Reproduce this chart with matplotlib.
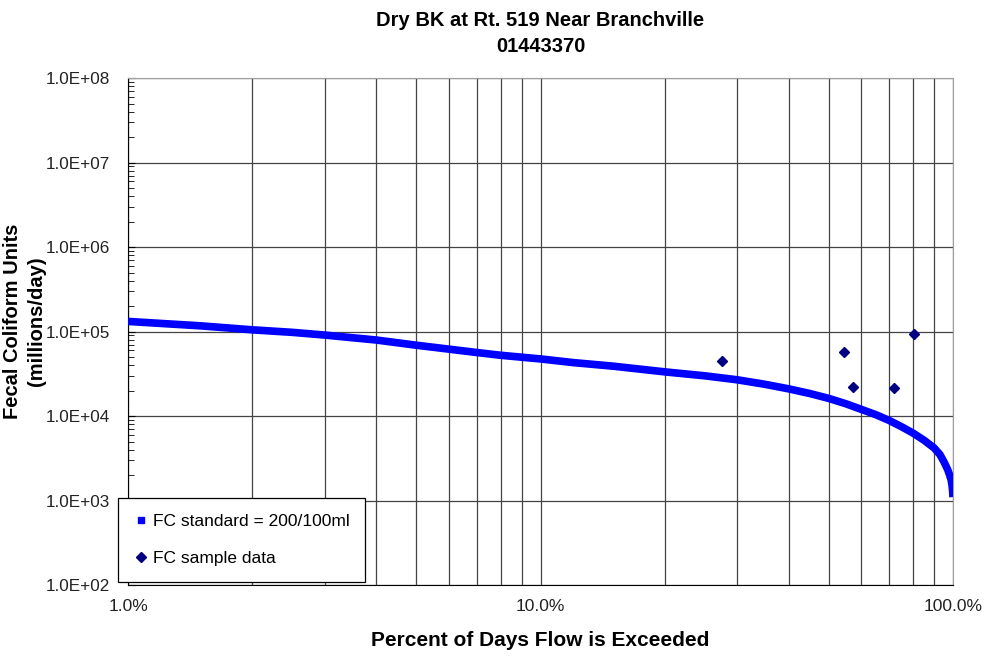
import matplotlib
matplotlib.use("Agg")
import matplotlib.pyplot as plt
from matplotlib.ticker import LogLocator, FuncFormatter, NullFormatter
from matplotlib.lines import Line2D

plt.rcParams['font.family'] = ['Liberation Sans', 'DejaVu Sans']

title = "Dry BK at Rt. 519 Near Branchville\n01443370"

# load duration curve
curve_pct = [1.0, 1.2, 1.5, 2, 2.5, 3, 4, 5, 6, 7, 8, 10, 12, 15, 20, 25,
             30, 35, 40, 45, 50, 55, 60, 65, 70, 75, 80, 85, 90, 93, 95,
             97, 98, 99, 99.5, 99.8, 100]
curve_fc = [1.32e5, 1.25e5, 1.17e5, 1.05e5, 9.8e4, 9.1e4, 7.95e4, 6.9e4,
            6.2e4, 5.66e4, 5.25e4, 4.75e4, 4.3e4, 3.9e4, 3.34e4, 3.0e4,
            2.69e4, 2.38e4, 2.1e4, 1.85e4, 1.62e4, 1.4e4, 1.2e4, 1.04e4,
            8.9e3, 7.5e3, 6.3e3, 5.2e3, 4.2e3, 3.5e3, 2.9e3, 2.35e3, 2.05e3,
            1.75e3, 1.5e3, 1.3e3, 1.1e3]

# sample points
sample_pct = [27.5, 54.5, 57.2, 71.9, 80.3]
sample_fc = [4.45e4, 5.66e4, 2.19e4, 2.13e4, 9.3e4]

legend_labels = ["FC standard = 200/100ml", "FC sample data"]

fig = plt.figure(figsize=(9.85, 6.56), dpi=100)
ax = fig.add_axes([0.130, 0.108, 0.8375, 0.773])

ax.plot(curve_pct, curve_fc, color="#0000ff", lw=5.5,
        solid_capstyle="butt", zorder=3)
ax.plot(sample_pct, sample_fc, ls="none", marker="D", ms=5.5,
        color="#000080", zorder=4)

ax.set_xscale("log")
ax.set_yscale("log")
ax.set_xlim(1, 100)
ax.set_ylim(1e2, 1e8)

ax.xaxis.set_major_locator(LogLocator(base=10))
ax.xaxis.set_minor_locator(LogLocator(base=10, subs=range(2, 10)))
ax.xaxis.set_major_formatter(FuncFormatter(lambda v, _: f"{v:.1f}%"))
ax.xaxis.set_minor_formatter(NullFormatter())
ax.yaxis.set_major_locator(LogLocator(base=10))
ax.yaxis.set_minor_locator(LogLocator(base=10, subs=range(2, 10)))
ax.yaxis.set_major_formatter(FuncFormatter(lambda v, _: f"{v:.1E}"))
ax.yaxis.set_minor_formatter(NullFormatter())

ax.tick_params(axis="x", which="both", length=0, pad=10, labelsize=12.5,
               labelcolor="#222222")
ax.tick_params(axis="y", which="major", direction="in", length=5, pad=13,
               labelsize=12.3, labelcolor="#222222")
ax.tick_params(axis="y", which="minor", direction="in", length=4)

ax.grid(True, axis="x", which="both", color="#444444", lw=0.9)
ax.grid(True, axis="y", which="major", color="#444444", lw=0.9)
ax.set_axisbelow(True)

for side in ["top", "right"]:
    ax.spines[side].set_color("#a0a0a0")
for side in ["left", "bottom"]:
    ax.spines[side].set_color("black")

ax.set_title(title, fontsize=14.5, fontweight="bold", pad=19, linespacing=1.45)
ax.set_xlabel("Percent of Days Flow is Exceeded", fontsize=15,
              fontweight="bold", labelpad=12)
ax.set_ylabel("Fecal Coliform Units\n(millions/day)", fontsize=14.5,
              fontweight="bold", linespacing=1.3)
ax.yaxis.set_label_coords(-0.1, 0.52)

handles = [
    Line2D([], [], ls="none", marker="s", ms=5, color="#0000ff"),
    Line2D([], [], ls="none", marker="D", ms=5, color="#000080"),
]
leg = ax.legend(handles, legend_labels,
                loc="lower left", bbox_to_anchor=(-0.012, 0.006),
                fontsize=12.5, frameon=True, fancybox=False, framealpha=1,
                edgecolor="black", labelspacing=1.3, handlelength=0.8,
                handletextpad=0.3, borderpad=0.9, borderaxespad=0)
leg.get_frame().set_linewidth(0.9)
leg.set_zorder(5)

fig.savefig("out.png", dpi=100)
